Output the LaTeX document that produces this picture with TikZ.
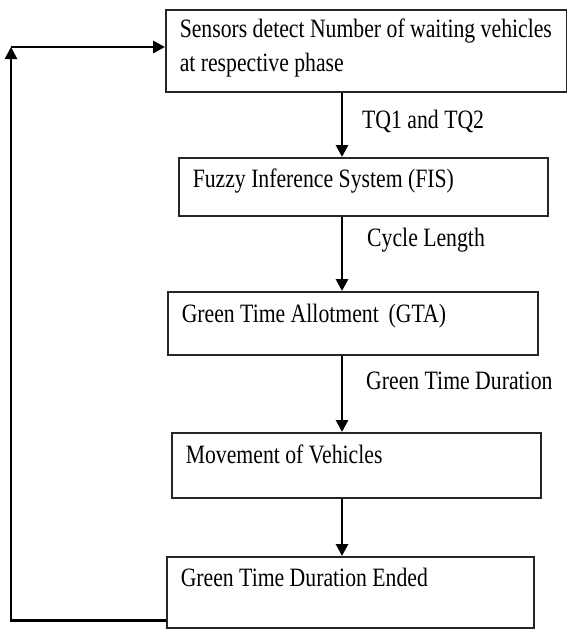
\documentclass[tikz,border=0pt]{standalone}
\usepackage{fontspec}
\setmainfont[FakeStretch=0.82]{Liberation Serif}
\usepackage{tikz}
\usetikzlibrary{arrows.meta}
\usetikzlibrary{positioning}

\begin{document}
\begin{tikzpicture}[x=1pt,y=-1pt,
		box/.style={draw=black!85,line width=1.5pt,anchor=north west,inner xsep=14pt,inner ysep=0pt,align=left,
			execute at begin node={\spaceskip=5.4pt plus 2pt minus 1pt\relax}},
		flow/.style={line width=2.8pt,-{Triangle[length=12pt,width=12pt]}},
		font=\fontsize{26.5}{34}\selectfont]
		\useasboundingbox (0,0) rectangle (567,629);
		
		\foreach \name/\x/\y/\w/\h/\top/\txt in {
			sensors/165/9/401/82/28/{\mbox{Sensors detect Number of waiting vehicles}\\at respective phase},
			fis/178/157/369/58/30/{Fuzzy Inference System (FIS)},
			gta/167/291/370/63/31/{Green Time Allotment\,\ (GTA)},
			move/171/432/369/65/31/{Movement of Vehicles},
			ended/166/556/367/71/30/{Green Time Duration Ended}}{
			\pgfmathsetmacro\tw{\w-28}
			\pgfmathsetmacro\td{\h-\top}
			\node[box,text width=\tw pt,text height=\top pt,text depth=\td pt] (\name) at (\x,\y) {\txt};
		}
		
		\coordinate (spine) at (342,0);
		\coordinate (corner) at (11,47);
		
		\foreach \a/\b in {sensors/fis,fis/gta,gta/move,move/ended}{
			\draw[flow] (\a.south -| spine) -- (\b.north -| spine);
		}
		
		\node[anchor=base west,inner sep=0pt] (lbl-1) at (362,128) {TQ1 and TQ2};
		\node[anchor=base west,inner sep=0pt] (lbl-2) at (367,246) {Cycle Length};
		\node[anchor=base west,inner sep=0pt] (lbl-3) at (366,389) {Green Time Duration};
		
		% feedback loop
		\draw[flow] ([yshift=-28pt]ended.west) -| (corner);
		\draw[flow] (corner) -- (corner -| sensors.west);
	\end{tikzpicture}
\end{document}
